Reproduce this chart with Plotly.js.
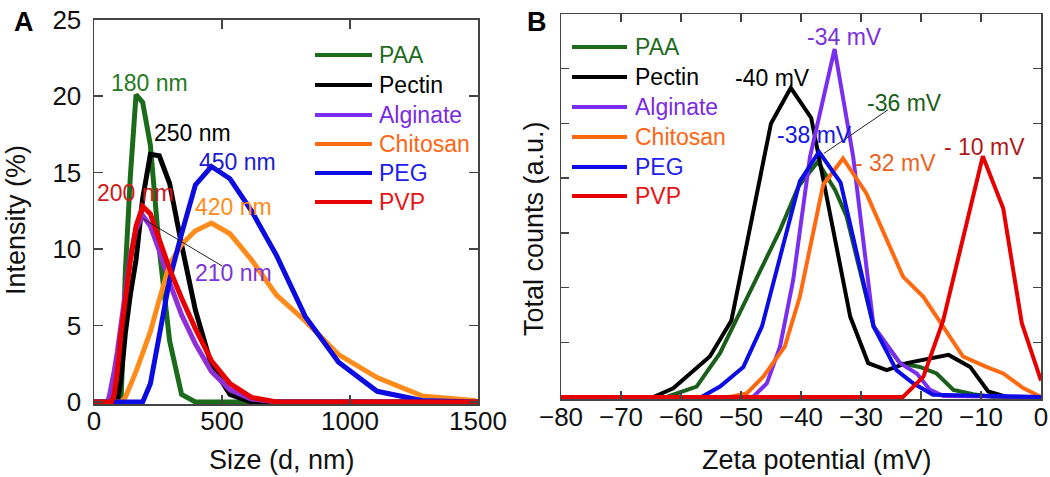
<!DOCTYPE html>
<html><head><meta charset="utf-8">
<script src="https://cdn.plot.ly/plotly-3.0.1.min.js"></script>
<style>html,body{margin:0;padding:0;background:#fff}#chart{width:1050px;height:477px}</style>
</head><body><div id="chart"></div>
<script>
// ---------- data ----------
const seriesNames = ['PAA', 'Pectin', 'Alginate', 'Chitosan', 'PEG', 'PVP'];

// Panel A: size distribution (DLS bins, nm) and intensity (%)
const sizeBins = [0, 50.75, 58.77, 68.06, 78.82, 91.28, 105.7, 122.4, 141.8, 164.2, 190.1, 220.2, 255.0, 295.3, 342.0, 396.1, 458.7, 531.2, 615.1, 712.4, 825.0, 955.4, 1106, 1281, 1484, 1500];
const intensityPAA      = [0, 0, 0, 0, 0, 0, 0, 8.5, 14.7, 20.1, 19.6, 16.8, 10.0, 4.0, 0.5, 0, 0, 0, 0, 0, 0, 0, 0, 0, 0, 0];
const intensityPectin   = [0, 0, 0, 0, 0, 0, 1.5, 4.5, 7.0, 9.3, 13.3, 16.2, 16.1, 14.3, 10.3, 6.0, 2.4, 0.5, 0, 0, 0, 0, 0, 0, 0, 0];
const intensityAlginate = [0, 0, 0.3, 1.0, 2.0, 3.3, 5.2, 7.5, 9.5, 11.3, 12.2, 11.5, 9.9, 7.8, 5.7, 3.8, 2.0, 0.8, 0.2, 0, 0, 0, 0, 0, 0, 0];
const intensityChitosan = [0, 0, 0, 0, 0, 0, 0, 0.3, 1.0, 2.0, 3.2, 4.6, 6.7, 9.0, 10.3, 11.2, 11.7, 11.0, 9.3, 7.0, 5.3, 3.1, 1.6, 0.4, 0.1, 0];
const intensityPEG      = [0, 0, 0, 0, 0, 0, 0, 0, 0, 0, 0, 1.2, 4.5, 8.0, 11.0, 14.2, 15.4, 14.6, 12.5, 9.6, 5.6, 2.6, 0.7, 0.1, 0, 0];
const intensityPVP      = [0, 0, 0, 0, 0.5, 2.0, 4.5, 7.0, 9.2, 11.5, 12.8, 12.3, 10.6, 8.7, 6.8, 4.8, 2.7, 1.2, 0.3, 0, 0, 0, 0, 0, 0, 0];

// Panel B: zeta potential (mV) and total counts (a.u.)
const zetaPAA_mV        = [-80, -62.4, -57.4, -53.5, -43.5, -40.4, -37.2, -34.3, -32.4, -27.9, -23.5, -20.2, -17.4, -14.6, -11.3, -8, 0];
const countsPAA         = [0, 0, 0.19, 0.8, 3.05, 3.85, 4.3, 3.78, 3.3, 1.29, 0.62, 0.55, 0.43, 0.13, 0.05, 0, 0];
const zetaPectin_mV     = [-80, -64.6, -61.3, -55.2, -51.6, -45, -41.7, -38.3, -31.8, -28.8, -25.7, -22.4, -15.4, -11.8, -8.8, -5.7, 0];
const countsPectin      = [0, 0, 0.16, 0.74, 1.4, 5.0, 5.65, 5.1, 1.47, 0.62, 0.49, 0.62, 0.77, 0.55, 0.1, 0, 0];
const zetaAlginate_mV   = [-80, -48, -45.7, -43.5, -41.3, -38.5, -34.4, -31.3, -27.9, -23.5, -20.7, -18.5, -16.3, 0];
const countsAlginate    = [0, 0, 0.25, 0.92, 2.14, 4.39, 6.36, 4.39, 1.29, 0.62, 0.43, 0.13, 0.02, 0];
const zetaChitosan_mV   = [-80, -51.8, -49, -46.3, -42.7, -40.2, -36.3, -33, -29.1, -23, -19.6, -13, -9.1, -6.3, -2.9, 0];
const countsChitosan    = [0, 0, 0.07, 0.37, 0.92, 1.83, 3.88, 4.36, 3.72, 2.2, 1.83, 0.74, 0.55, 0.43, 0.16, 0];
const zetaPEG_mV        = [-80, -56.6, -53.5, -49.6, -46.5, -44, -40.2, -37, -33.4, -27.9, -24.1, -21.3, -18, 0];
const countsPEG         = [0, 0, 0.19, 0.55, 1.29, 2.32, 3.94, 4.48, 3.92, 1.29, 0.49, 0.25, 0.04, 0];
const zetaPVP_mV        = [-80, -23, -19.6, -16.3, -9.7, -6.3, -3.2, 0];
const countsPVP         = [0, 0, 0.37, 1.4, 4.4, 3.45, 1.35, 0.3];

const peakLabelsA = ['180 nm', '250 nm', '210 nm', '420 nm', '450 nm', '200 nm'];
const peakLabelsB = ['-36 mV', '-40 mV', '-34 mV', '- 32 mV', '-38 mV', '- 10 mV'];
const xTicksA = [0, 500, 1000, 1500];
const yTicksA = [0, 5, 10, 15, 20, 25];
const xTicksB = [-80, -70, -60, -50, -40, -30, -20, -10, 0];

// ---------- styles ----------
const colorsA = ['#1b6b1b', '#000000', '#8f2fd8', '#ff8c1a', '#0c0ce0', '#e60000'];
const colorsB = ['#1b5e1b', '#000000', '#7a2ff0', '#ff6a10', '#0c0ce6', '#e60000'];
const legendLineColors = ['#1b6b1b', '#000000', '#7a2ff0', '#ff6a10', '#0c0ce6', '#e60000'];
const legendTextColors = ['#1f6b1f', '#000000', '#7a2be2', '#ff6514', '#2020f0', '#e81414'];
const labelColorsA = ['#237a23', '#000000', '#7a34d8', '#ff8c1a', '#1a1ad0', '#cc1a1a'];
const labelColorsB = ['#1a5e1a', '#000000', '#7a2fe0', '#e8641e', '#1515e0', '#b01818'];
const FONT = 'Liberation Sans, Arial, sans-serif';

const W = 1050, H = 477;
const P = x => x / W;
const Q = y => 1 - y / H;

const ysA = [intensityPAA, intensityPectin, intensityAlginate, intensityChitosan, intensityPEG, intensityPVP];
const xsB = [zetaPAA_mV, zetaPectin_mV, zetaAlginate_mV, zetaChitosan_mV, zetaPEG_mV, zetaPVP_mV];
const ysB = [countsPAA, countsPectin, countsAlginate, countsChitosan, countsPEG, countsPVP];

const traces = [];
seriesNames.forEach((n, i) => {
  traces.push({x: sizeBins, y: ysA[i], name: n, type: 'scatter', mode: 'lines',
    xaxis: 'x', yaxis: 'y', showlegend: false, hoverinfo: 'skip',
    line: {color: colorsA[i], width: 5}});
});
seriesNames.forEach((n, i) => {
  traces.push({x: xsB[i], y: ysB[i], name: n, type: 'scatter', mode: 'lines',
    xaxis: 'x2', yaxis: 'y2', showlegend: false, hoverinfo: 'skip',
    line: {color: colorsB[i], width: 4}});
});

const axisCommon = {
  showgrid: false, zeroline: false, showline: true, mirror: 'ticks',
  linecolor: '#444', linewidth: 1.5, ticks: 'inside', ticklen: 9,
  tickcolor: '#444', tickwidth: 1.5, tickfont: {family: FONT, size: 26, color: '#111'}
};

const shapes = [];
const annotations = [];

// legends (drawn from series names)
const legendA = {x0: 315, x1: 372, tx: 377, ys: [55, 85, 115, 144, 173, 202]};
const legendB = {x0: 572, x1: 627, tx: 633, ys: [47, 77, 107, 137, 167, 196]};
[legendA, legendB].forEach(L => {
  seriesNames.forEach((n, i) => {
    shapes.push({type: 'line', xref: 'paper', yref: 'paper',
      x0: P(L.x0), x1: P(L.x1), y0: Q(L.ys[i]), y1: Q(L.ys[i]),
      line: {color: legendLineColors[i], width: 4}});
    annotations.push({xref: 'paper', yref: 'paper', x: P(L.tx), y: Q(L.ys[i]),
      xanchor: 'left', yanchor: 'middle', showarrow: false, text: n,
      font: {family: FONT, size: 23, color: legendTextColors[i]}});
  });
});

// peak labels panel A (data coords)
const posA = [[215, 20.85], [385, 17.58], [543, 8.43], [543, 12.75], [559, 15.69], [164, 13.66]];
peakLabelsA.forEach((t, i) => annotations.push({xref: 'x', yref: 'y', x: posA[i][0], y: posA[i][1],
  text: t, showarrow: false, xanchor: 'center', yanchor: 'middle',
  font: {family: FONT, size: 23, color: labelColorsA[i]}}));
shapes.push({type: 'line', xref: 'x', yref: 'y', x0: 190, y0: 12.0, x1: 500, y1: 8.9,
  line: {color: '#222', width: 1}});

// peak labels panel B
const posB = [[-22.67, 5.37], [-44.83, 5.83], [-32.67, 6.58], [-24.17, 4.28], [-37.83, 4.79], [-9.5, 4.57]];
peakLabelsB.forEach((t, i) => annotations.push({xref: 'x2', yref: 'y2', x: posB[i][0], y: posB[i][1],
  text: t, showarrow: false, xanchor: 'center', yanchor: 'middle',
  font: {family: FONT, size: 23, color: labelColorsB[i]}}));
shapes.push({type: 'line', xref: 'x2', yref: 'y2', x0: -36.2, y0: 4.45, x1: -25.5, y1: 5.25,
  line: {color: '#222', width: 1}});

// axis titles and panel letters
annotations.push({xref: 'paper', yref: 'paper', x: P(282), y: Q(460), text: 'Size (d, nm)', showarrow: false,
  xanchor: 'center', yanchor: 'middle', font: {family: FONT, size: 27, color: '#111'}});
annotations.push({xref: 'paper', yref: 'paper', x: P(817), y: Q(460), text: 'Zeta potential (mV)', showarrow: false,
  xanchor: 'center', yanchor: 'middle', font: {family: FONT, size: 27, color: '#111'}});
annotations.push({xref: 'paper', yref: 'paper', x: P(16), y: Q(220), text: 'Intensity (%)', showarrow: false,
  textangle: -90, xanchor: 'center', yanchor: 'middle', font: {family: FONT, size: 27, color: '#111'}});
annotations.push({xref: 'paper', yref: 'paper', x: P(534), y: Q(229), text: 'Total counts (a.u.)', showarrow: false,
  textangle: -90, xanchor: 'center', yanchor: 'middle', font: {family: FONT, size: 27, color: '#111'}});
annotations.push({xref: 'paper', yref: 'paper', x: P(24), y: Q(22), text: '<b>A</b>', showarrow: false,
  xanchor: 'center', yanchor: 'middle', font: {family: FONT, size: 27, color: '#000'}});
annotations.push({xref: 'paper', yref: 'paper', x: P(537), y: Q(22), text: '<b>B</b>', showarrow: false,
  xanchor: 'center', yanchor: 'middle', font: {family: FONT, size: 27, color: '#000'}});

const layout = {
  width: W, height: H, margin: {l: 0, r: 0, t: 0, b: 0},
  paper_bgcolor: '#fff', plot_bgcolor: '#fff', showlegend: false,
  font: {family: FONT},
  xaxis: Object.assign({}, axisCommon, {domain: [P(94), P(478)], range: [0, 1500],
    tickvals: xTicksA, ticklabelstandoff: -7, anchor: 'y'}),
  yaxis: Object.assign({}, axisCommon, {domain: [Q(404.3), Q(19.7)], range: [-0.15, 25],
    tickvals: yTicksA, ticklabelstandoff: 6, anchor: 'x'}),
  xaxis2: Object.assign({}, axisCommon, {domain: [P(561), P(1041)], range: [-80, 0],
    tickvals: xTicksB, ticklabelstandoff: -6, anchor: 'y2', ticklen: 8}),
  yaxis2: Object.assign({}, axisCommon, {domain: [Q(399.2), Q(14)], range: [-0.04, 7],
    tickvals: [1, 2, 3, 4, 5, 6], showticklabels: false, anchor: 'x2', ticklen: 8}),
  shapes: shapes,
  annotations: annotations
};

Plotly.newPlot('chart', traces, layout, {staticPlot: true, displayModeBar: false});
</script>
</body></html>
